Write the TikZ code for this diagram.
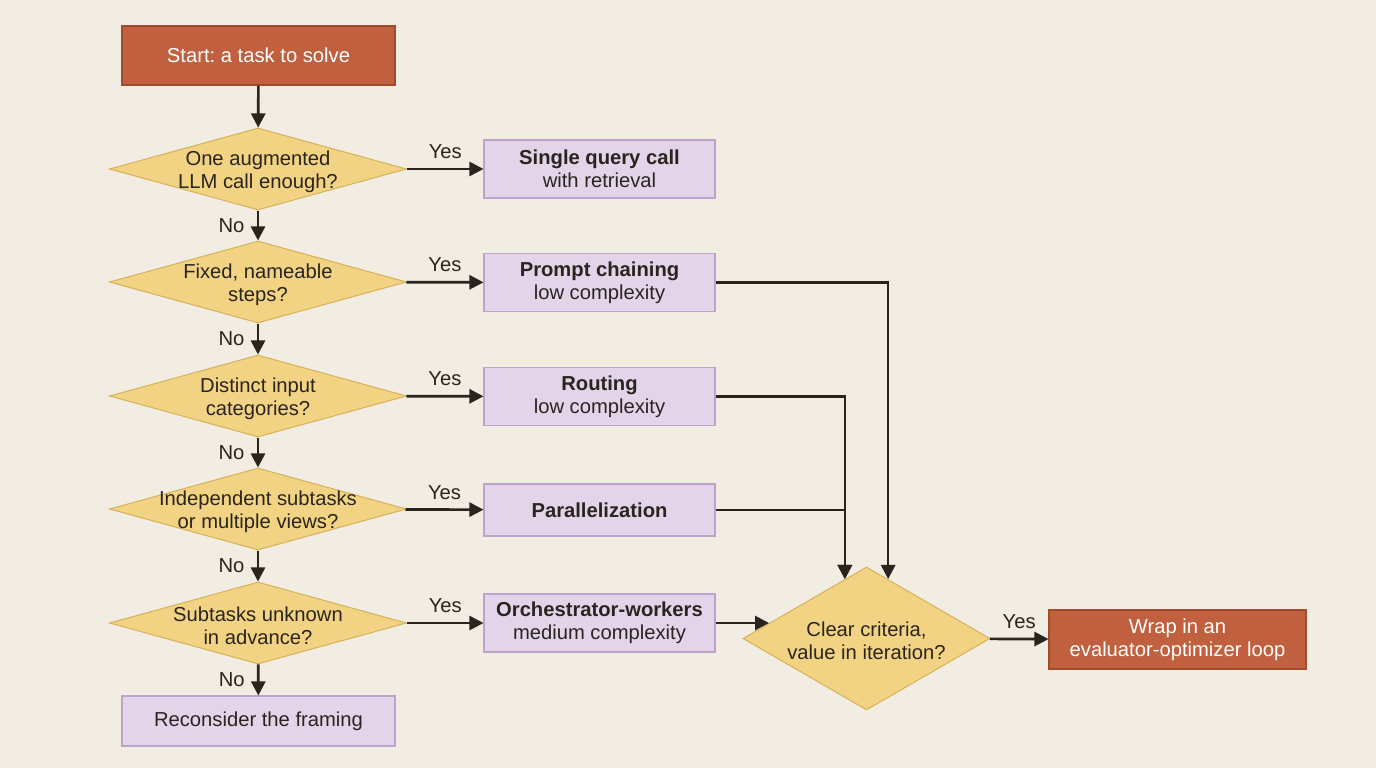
\documentclass[tikz,border=0pt]{standalone}
\usepackage{fontspec}
\setmainfont{Liberation Sans}
\frenchspacing
\usetikzlibrary{shapes.geometric,arrows.meta}
\definecolor{paper}{HTML}{F1EDE2}
\definecolor{ink}{HTML}{2A241E}
\definecolor{askfill}{HTML}{F2D384}
\definecolor{askline}{HTML}{D9B25C}
\definecolor{patfill}{HTML}{E3D4EA}
\definecolor{patline}{HTML}{BBA3CC}
\definecolor{endfill}{HTML}{C0603F}
\definecolor{endline}{HTML}{A04A2E}
\tikzset{
  ask/.style={diamond, draw=askline, fill=askfill, line width=0.6pt,
    minimum width=5.94cm, minimum height=1.64cm, inner sep=0pt},
  ask text/.style={align=center, yshift=-1.5pt},
  pattern box/.style={rectangle, draw=patline, fill=patfill, line width=0.6pt,
    minimum width=4.62cm, minimum height=1.16cm, inner sep=0pt, align=center},
  end box/.style={rectangle, draw=endline, fill=endfill, line width=0.6pt,
    text=white, minimum width=5.46cm, minimum height=1.18cm, inner sep=0pt, align=center},
  flow/.style={draw=ink, line width=1.5pt, -{Triangle[length=8pt,width=8pt]}},
  answer/.style={text=ink, inner sep=2pt}
}
\begin{document}
\begin{tikzpicture}[font=\fontsize{11.5}{13}\selectfont, text=ink]
\fill[paper] (0,0) rectangle (27.52,-15.36);
\useasboundingbox (0,0) rectangle (27.52,-15.36);
% main column
\node[end box] (start) at (5.17,-1.11) {Start: a task to solve};
\node[ask, label={[ask text]center:One augmented\\LLM call enough?}] (q1) at (5.16,-3.38) {};
\node[ask, label={[ask text]center:Fixed, nameable\\steps?}] (q2) at (5.16,-5.64) {};
\node[ask, label={[ask text]center:Distinct input\\categories?}] (q3) at (5.16,-7.92) {};
\node[ask, label={[ask text]center:Independent subtasks\\or multiple views?}] (q4) at (5.16,-10.18) {};
\node[ask, label={[ask text]center:Subtasks unknown\\in advance?}] (q5) at (5.16,-12.46) {};
\node[pattern box, minimum width=5.46cm, minimum height=1.0cm] (reframe) at (5.17,-14.42) {Reconsider the framing};
% workflow patterns
\node[pattern box] (single) at (11.99,-3.38) {\textbf{Single query call}\\with retrieval};
\node[pattern box] (chain) at (11.99,-5.65) {\textbf{Prompt chaining}\\low complexity};
\node[pattern box] (route) at (11.99,-7.93) {\textbf{Routing}\\low complexity};
\node[pattern box, minimum height=1.04cm] (par) at (11.99,-10.2) {\textbf{Parallelization}};
\node[pattern box] (orch) at (11.99,-12.46) {\textbf{Orchestrator-workers}\\medium complexity};
% evaluator check
\node[ask, minimum width=4.94cm, minimum height=2.86cm, label={[ask text]center:Clear criteria,\\value in iteration?}] (qe) at (17.33,-12.77) {};
\node[end box, minimum width=5.14cm] (loop) at (23.55,-12.79) {Wrap in an\\evaluator-optimizer loop};
% arrows
\draw[flow] (start) -- (q1);
\draw[flow] (q1) -- node[answer, left=5pt] {No} (q2);
\draw[flow] (q2) -- node[answer, left=5pt] {No} (q3);
\draw[flow] (q3) -- node[answer, left=5pt] {No} (q4);
\draw[flow] (q4) -- node[answer, left=5pt] {No} (q5);
\draw[flow] (q5) -- node[answer, left=5pt] {No} (reframe);
\draw[flow] (q1) -- node[answer, above=3pt] {Yes} (single);
\draw[flow] (q2) -- node[answer, above=3pt] {Yes} (chain);
\draw[flow] (q3) -- node[answer, above=3pt] {Yes} (route);
\draw[flow] (q4) -- node[answer, above=3pt] {Yes} (par);
\draw[flow] (q5) -- node[answer, above=3pt] {Yes} (orch);
\draw[flow] (chain.east) -| (qe.70);
\draw[flow] (route.east) -| (qe.110);
\draw[flow] (par.east) -| (qe.110);
\draw[flow] (orch.east) -- (orch.east -| qe.171);
\draw[flow] (qe) -- node[answer, above=3pt] {Yes} (loop);
\end{tikzpicture}
\end{document}
